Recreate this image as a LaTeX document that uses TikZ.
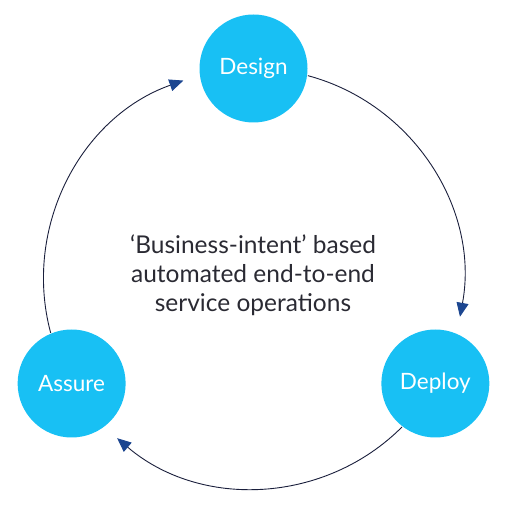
\documentclass[tikz,border=0pt]{standalone}
\usepackage{fontspec}
\setmainfont{Lato}
\usetikzlibrary{arrows.meta}
\definecolor{cyanfill}{HTML}{18C0F4}
\definecolor{navytip}{HTML}{1C4690}
\definecolor{arcline}{HTML}{1A1F3C}
\definecolor{midtext}{HTML}{2A2A33}
\tikzset{
  phase/.style={circle, fill=cyanfill, minimum size=108pt, inner sep=0pt, text=white, font=\fontsize{22.5}{26}\selectfont},
  conn/.style={draw=arcline, line width=0.9pt, -{Triangle[length=14pt,width=12pt,color=navytip,fill=navytip]}, looseness=0.98},
}
\begin{document}
\begin{tikzpicture}[x=1pt,y=1pt]
\path[use as bounding box] (0,0) rectangle (505,506);
\coordinate (O) at (253.5,227.5);
\path (O) ++(90:210) node[phase] (design) {Design};
\path (O) ++(-30:210) node[phase] (deploy) {Deploy};
\path (O) ++(210:210) node[phase] (assure) {Assure};
\path (O) ++(75:210) coordinate (s1);
\path (O) ++(-10.5:210) coordinate (e1);
\path (O) ++(-45:210) coordinate (s2);
\path (O) ++(229.5:210) coordinate (e2);
\path (O) ++(195:210) coordinate (s3);
\path (O) ++(109.5:210) coordinate (e3);
\draw[conn] (s1) to[out=-15,in=79.5] (e1);
\draw[conn] (s2) to[out=-135,in=-40.5] (e2);
\draw[conn] (s3) to[out=105,in=199.5] (e3);
\node[align=center, text=midtext, font=\fontsize{24.5}{29}\selectfont] (mid) at (253,231) {‘Business-intent’ based\\automated end-to-end\\service operations};
\end{tikzpicture}
\end{document}
